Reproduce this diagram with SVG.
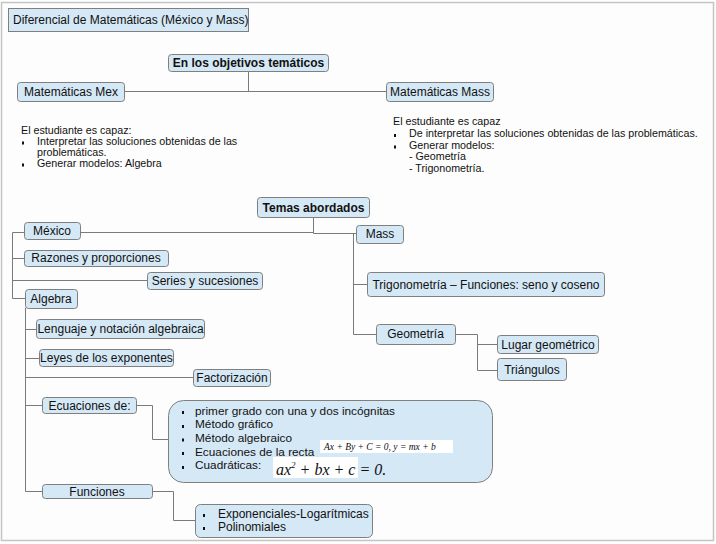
<svg xmlns="http://www.w3.org/2000/svg" width="716" height="544" viewBox="0 0 716 544">
<style>
.box{fill:#d5e8f6;stroke:#7f7f7f;stroke-width:1}
.lbl{font-family:"Liberation Sans",Arial,sans-serif;font-size:12px;fill:#111;text-anchor:middle}
.b{font-weight:bold}
.txt{font-family:"Liberation Sans",Arial,sans-serif;font-size:10.7px;fill:#111}
.t12{font-family:"Liberation Sans",Arial,sans-serif;font-size:12px;fill:#111}
.t11{font-family:"Liberation Sans",Arial,sans-serif;font-size:11.8px;fill:#111}
.bul{fill:#111}
.con{fill:none;stroke:#7a7a7a;stroke-width:1}
.math{font-family:"Liberation Serif","Times New Roman",serif;font-style:italic;fill:#111}
</style>
<rect x="0" y="0" width="716" height="544" fill="#ffffff"/>
<rect x="1.5" y="2.5" width="712" height="538" fill="#fdfdfd" stroke="#c4c4c4" stroke-width="1.5"/>

<g id="connectors">
<path class="con" d="M248.5 71V91.5M124 91.5H386"/>
<path class="con" d="M313.5 217V233.5H356M80 232.5H313.5"/>
<path class="con" d="M12.5 232.5V298.5M12.5 232.5H24M12.5 258.5H24M12.5 280.5H147M12.5 298.5H25"/>
<path class="con" d="M353.5 233.5V334.5M353.5 284.5H367M353.5 334.5H376"/>
<path class="con" d="M455 334.5H477.5V370.5H497M477.5 344.5H497"/>
<path class="con" d="M25.5 308V491.5M25.5 329.5H36M25.5 358.5H39M25.5 377.5H193M25.5 405.5H42M25.5 491.5H42"/>
<path class="con" d="M136 405.5H152.5V439.5H169"/>
<path class="con" d="M152 491.5H173.5V520.5H195"/>
</g>

<g id="title">
<rect class="box" x="8.5" y="8.5" width="240" height="23"/>
<text class="t12" x="13" y="24">Diferencial de Matemáticas (México y Mass)</text>
</g>

<g id="objetivos">
<rect class="box" x="168.5" y="54.5" width="160" height="17" rx="3"/>
<text class="lbl b" x="248.5" y="67">En los objetivos temáticos</text>
</g>

<g id="mat-mex">
<rect class="box" x="17.5" y="82.5" width="107" height="19" rx="3"/>
<text class="lbl" x="71" y="96">Matemáticas Mex</text>
</g>

<g id="mat-mass">
<rect class="box" x="386.5" y="82.5" width="107" height="19" rx="3"/>
<text class="lbl" x="440" y="96">Matemáticas Mass</text>
</g>

<g id="mex-text">
<text class="txt" x="21" y="134">El estudiante es capaz:</text>
<rect class="bul" x="22" y="141.5" width="2" height="3"/>
<text class="txt" x="37" y="145">Interpretar las soluciones obtenidas de las</text>
<text class="txt" x="37" y="156">problemáticas.</text>
<rect class="bul" x="22" y="163.5" width="2" height="3"/>
<text class="txt" x="37" y="167">Generar modelos: Algebra</text>
</g>

<g id="mass-text">
<text class="txt" x="393" y="125">El estudiante es capaz</text>
<rect class="bul" x="394" y="134" width="2" height="3"/>
<text class="txt" x="409" y="137">De interpretar las soluciones obtenidas de las problemáticas.</text>
<rect class="bul" x="394" y="145.5" width="2" height="3"/>
<text class="txt" x="409" y="148.5">Generar modelos:</text>
<text class="txt" x="409" y="160">- Geometría</text>
<text class="txt" x="409" y="171.5">- Trigonometría.</text>
</g>

<g id="temas">
<rect class="box" x="257.5" y="197.5" width="112" height="20" rx="3"/>
<text class="lbl b" x="313.5" y="212">Temas abordados</text>
</g>

<g id="mexico">
<rect class="box" x="24.5" y="222.5" width="56" height="17" rx="3"/>
<text class="lbl" x="52" y="235">México</text>
</g>

<g id="razones">
<rect class="box" x="24.5" y="250.5" width="144" height="16" rx="3"/>
<text class="lbl" x="96" y="262">Razones y proporciones</text>
</g>

<g id="series">
<rect class="box" x="147.5" y="272.5" width="115" height="17" rx="3"/>
<text class="lbl" x="205" y="284.5">Series y sucesiones</text>
</g>

<g id="algebra">
<rect class="box" x="25.5" y="289.5" width="52" height="19" rx="3"/>
<text class="lbl" x="51" y="303">Algebra</text>
</g>

<g id="mass">
<rect class="box" x="356.5" y="225.5" width="47" height="18" rx="3"/>
<text class="lbl" x="380" y="238">Mass</text>
</g>

<g id="trigonometria">
<rect class="box" x="367.5" y="272.5" width="237" height="24" rx="3"/>
<text class="lbl" x="486" y="288.5">Trigonometría – Funciones: seno y coseno</text>
</g>

<g id="geometria">
<rect class="box" x="376.5" y="324.5" width="79" height="20" rx="3"/>
<text class="lbl" x="415.5" y="338">Geometría</text>
</g>

<g id="lugar">
<rect class="box" x="497.5" y="335.5" width="101" height="18" rx="3"/>
<text class="lbl" x="548" y="349">Lugar geométrico</text>
</g>

<g id="triangulos">
<rect class="box" x="497.5" y="358.5" width="69" height="22" rx="3"/>
<text class="lbl" x="532" y="374">Triángulos</text>
</g>

<g id="lenguaje">
<rect class="box" x="36.5" y="319.5" width="168" height="19" rx="3"/>
<text class="lbl" x="120.5" y="333">Lenguaje y notación algebraica</text>
</g>

<g id="leyes">
<rect class="box" x="39.5" y="349.5" width="134" height="17" rx="3"/>
<text class="lbl" x="106.5" y="362">Leyes de los exponentes</text>
</g>

<g id="factorizacion">
<rect class="box" x="193.5" y="369.5" width="77" height="17" rx="3"/>
<text class="lbl" x="232" y="381.5">Factorización</text>
</g>

<g id="ecuaciones">
<rect class="box" x="42.5" y="397.5" width="94" height="16" rx="3"/>
<text class="lbl" x="89.5" y="409.5">Ecuaciones de:</text>
</g>

<g id="ecuaciones-lista">
<rect class="box" x="168.5" y="400.5" width="324" height="82" rx="15"/>
<rect class="bul" x="182" y="411" width="2" height="3"/>
<text class="t11" x="195" y="414.5">primer grado con una y dos incógnitas</text>
<rect class="bul" x="182" y="425" width="2" height="3"/>
<text class="t11" x="195" y="428">Método gráfico</text>
<rect class="bul" x="182" y="438.5" width="2" height="3"/>
<text class="t11" x="195" y="442">Método algebraico</text>
<rect class="bul" x="182" y="452" width="2" height="3"/>
<text class="t11" x="195" y="456">Ecuaciones de la recta</text>
<rect class="bul" x="182" y="466" width="2" height="3"/>
<text class="t11" x="195" y="469">Cuadráticas:</text>
<rect x="320" y="440" width="133" height="13" fill="#ffffff"/>
<text class="math" x="324" y="450" font-size="9.5">Ax + By + C = 0,  y = mx + b</text>
<rect x="273" y="457" width="85" height="21" fill="#ffffff"/>
<text class="math" x="276" y="475" font-size="16">ax<tspan font-size="9" dy="-7">2</tspan><tspan dy="7"> + bx + c = 0.</tspan></text>
</g>

<g id="funciones">
<rect class="box" x="42.5" y="484.5" width="110" height="14" rx="3"/>
<text class="lbl" x="97" y="495.5">Funciones</text>
</g>

<g id="funciones-lista">
<rect class="box" x="195.5" y="504.5" width="177" height="33" rx="5"/>
<rect class="bul" x="203" y="514" width="2" height="3"/>
<text class="t12" x="218" y="517.5">Exponenciales-Logarítmicas</text>
<rect class="bul" x="203" y="527" width="2" height="3"/>
<text class="t12" x="218" y="530.5">Polinomiales</text>
</g>
</svg>
